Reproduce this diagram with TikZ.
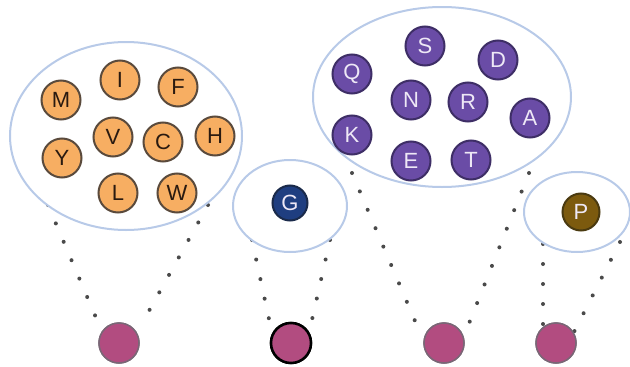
\documentclass[tikz,border=0pt]{standalone}
\usepackage{fontspec}
\setmainfont{Liberation Sans}
\usetikzlibrary{shapes.geometric}
\definecolor{ellblue}{HTML}{B8CAE8}
\definecolor{orfill}{HTML}{F7AE62}
\definecolor{ordraw}{HTML}{5A4A3C}
\definecolor{orText}{HTML}{2A1A10}
\definecolor{pufill}{HTML}{6A4CA6}
\definecolor{pudraw}{HTML}{3E2E66}
\definecolor{puText}{HTML}{EEE8F6}
\definecolor{gfill}{HTML}{1F3E80}
\definecolor{gdraw}{HTML}{1A2A4A}
\definecolor{pfill}{HTML}{7C5A0E}
\definecolor{pdraw}{HTML}{4A3A10}
\definecolor{mgfill}{HTML}{B24C80}
\definecolor{mgdraw}{HTML}{7A6676}
\definecolor{dotcol}{HTML}{4A4A4A}
\begin{document}
\begin{tikzpicture}[x=1pt,y=-1pt,
  grp/.style={ellipse, draw=ellblue, line width=2pt, fill=white, inner sep=0pt},
  ball/.style={circle, minimum size=39pt, inner sep=0pt, line width=2pt, font=\fontsize{22}{22}\selectfont},
  orball/.style={ball, fill=orfill, draw=ordraw, text=orText},
  puball/.style={ball, fill=pufill, draw=pudraw, text=puText},
  root/.style={circle, minimum size=40pt, inner sep=0pt, fill=mgfill, draw=mgdraw, line width=1.5pt},
  rootb/.style={root, draw=black, line width=2.5pt},
  dots/.style={draw=dotcol, line width=4pt, line cap=round, dash pattern=on 0pt off 20pt}
]
\useasboundingbox (0,0) rectangle (630,367);

% bottom circles
\node[root] (r1) at (119,343) {};
\node[rootb] (r2) at (291,343) {};
\node[root] (r3) at (444,343) {};
\node[root] (r4) at (556,343) {};

% dotted connectors
\coordinate (a1) at (48,205);  \coordinate (a2) at (208,205);
\coordinate (b1) at (252,240); \coordinate (b2) at (330,240);
\coordinate (c1) at (352,173); \coordinate (c2) at (529,173);
\coordinate (d1) at (543,244); \coordinate (d2) at (620,242);
\coordinate (a3) at (97,320);  \coordinate (a4) at (140,327);
\coordinate (b3) at (272,333); \coordinate (b4) at (309,333);
\coordinate (c3) at (421,335); \coordinate (c4) at (464,336);
\coordinate (d3) at (543,330); \coordinate (d4) at (574,332);
\draw[dots] (a1) -- (a3);
\draw[dots] (a2) -- (a4);
\draw[dots] (b1) -- (b3);
\draw[dots] (b2) -- (b4);
\draw[dots] (c1) -- (c3);
\draw[dots] (c2) -- (c4);
\draw[dots] (d1) -- (d3);
\draw[dots] (d2) -- (d4);
\node[root] at (r1) {};
\node[rootb] at (r2) {};
\node[root] at (r3) {};
\node[root] at (r4) {};

% group ellipses
\node[grp, minimum width=232pt, minimum height=188pt] (e1) at (126,136) {};
\node[grp, minimum width=114pt, minimum height=92pt] (e2) at (290,206) {};
\node[grp, minimum width=258pt, minimum height=180pt] (e3) at (442,97) {};
\node[grp, minimum width=106pt, minimum height=80pt] (e4) at (577,212) {};

% orange balls
\node[orball] (M) at (61,100) {M};
\node[orball] (I) at (120,80) {I};
\node[orball] (F) at (178,87) {F};
\node[orball] (V) at (113,137) {V};
\node[orball] (C) at (163,142) {C};
\node[orball] (H) at (215,136) {H};
\node[orball] (Y) at (62,158) {Y};
\node[orball] (L) at (118,193) {L};
\node[orball] (W) at (177,193) {W};

% G
\node[ball, fill=gfill, draw=gdraw, text=puText, minimum size=35pt] (G) at (290,203) {G};

% purple balls
\node[puball] (S) at (425,46) {S};
\node[puball] (D) at (498,60) {D};
\node[puball] (Q) at (352,74) {Q};
\node[puball] (N) at (411,100) {N};
\node[puball] (R) at (468,102) {R};
\node[puball] (A) at (530,118) {A};
\node[puball] (K) at (352,135) {K};
\node[puball] (E) at (411,161) {E};
\node[puball] (T) at (471,160) {T};

% P
\node[ball, fill=pfill, draw=pdraw, text=puText, minimum size=37pt] (P) at (581,212) {P};
\end{tikzpicture}
\end{document}
